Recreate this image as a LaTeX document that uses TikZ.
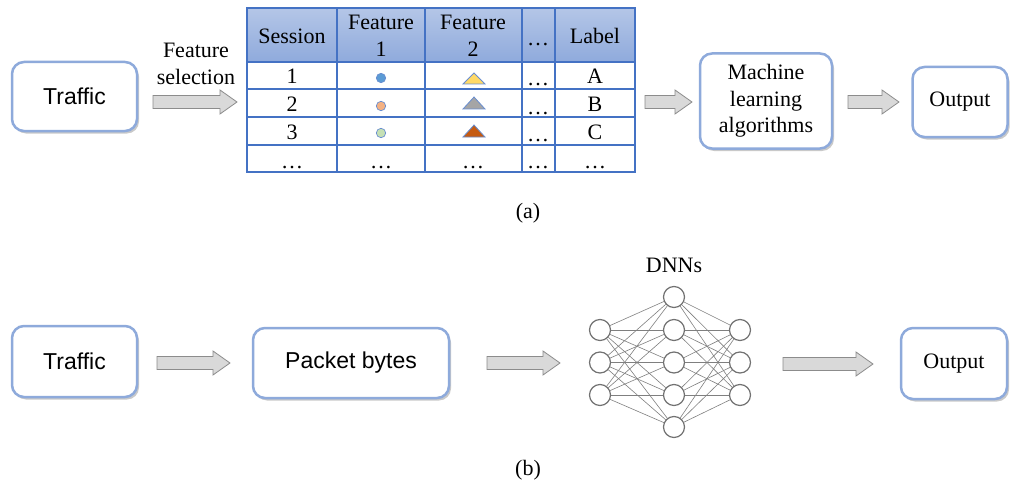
\documentclass[tikz,border=0pt]{standalone}
\usepackage{fontspec}
\setmainfont{Liberation Serif}
\setsansfont{Liberation Sans}
\usetikzlibrary{shadows}
\definecolor{boxblue}{HTML}{8EAADB}
\definecolor{tblue}{HTML}{4472C4}
\definecolor{hdrtop}{HTML}{B4C6E7}
\definecolor{hdrbot}{HTML}{8FAADC}
\definecolor{arrfill}{HTML}{D9D9D9}
\definecolor{arrdraw}{HTML}{8C8C8C}
\definecolor{netgray}{HTML}{7F7F7F}
\definecolor{cblue}{HTML}{5B9BD5}
\definecolor{corange}{HTML}{F4B183}
\definecolor{cgreen}{HTML}{C5E0B4}
\definecolor{tyellow}{HTML}{FFD966}
\definecolor{tgray}{HTML}{A5A5A5}
\definecolor{tred}{HTML}{C55A11}
\newcommand\blockarr[3]{% x1, x2, y
  \draw[blockarrow] ({#1},{#3-6.5}) -- ({#2-17},{#3-6.5}) -- ({#2-17},{#3-12}) -- ({#2},{#3})
    -- ({#2-17},{#3+12}) -- ({#2-17},{#3+6.5}) -- ({#1},{#3+6.5}) -- cycle;}
\begin{document}
\begin{tikzpicture}[x=1pt,y=-1pt,
  roundbox/.style={draw=boxblue, line width=2.5pt, rounded corners=12pt, fill=white, inner sep=0pt,
    drop shadow={shadow xshift=2pt, shadow yshift=-2.5pt, opacity=0.3, fill=black!70}},
  serifbig/.style={font=\fontsize{22}{26.5}\selectfont},
  sansbig/.style={font=\sffamily\fontsize{23}{27}\selectfont},
  blockarrow/.style={fill=arrfill, draw=arrdraw, line width=0.8pt},
  gridline/.style={draw=tblue, line width=1.2pt},
  neuron/.style={circle, draw=netgray!90!black, line width=1.2pt, fill=white, minimum size=21pt, inner sep=0pt},
  synapse/.style={draw=netgray, line width=0.6pt},
  dots/.style={serifbig, anchor=base},
  tri/.style={draw=tblue!80, line width=0.8pt},
  dotc/.style={draw=tblue!80, line width=0.7pt}
]
\useasboundingbox (0,0) rectangle (1013,487);

% ---------- (a) ----------
\node[roundbox, sansbig, minimum width=125pt, minimum height=69pt] (traffic1) at (74.5,96.5) {Traffic};
\node[serifbig, align=center] (fsel) at (196,64) {Feature\\selection};
\blockarr{153}{237}{102}

% table
\shade[top color=hdrtop, bottom color=hdrbot] (247,8) rectangle (635,62);
\foreach \yy in {62,89,117,145} \draw[gridline] (247,\yy) -- (635,\yy);
\foreach \xx in {337,425,522,555} \draw[gridline] (\xx,8) -- (\xx,172);
\node[draw=tblue, line width=1.6pt, minimum width=388pt, minimum height=164pt, inner sep=0pt] (table) at (441,90) {};

\node[serifbig] (hs) at (292,36) {Session};
\node[serifbig, align=center] (hf1) at (381,36) {Feature\\1};
\node[serifbig, align=center] (hf2) at (473,36) {Feature\\2};
\node[dots] (hd) at (538,46) {\ldots};
\node[serifbig] (hl) at (595,36) {Label};

\node[serifbig] (s1) at (292,76) {1};
\node[serifbig] (s2) at (292,104) {2};
\node[serifbig] (s3) at (292,132) {3};
\node[serifbig] (l1) at (595,76) {A};
\node[serifbig] (l2) at (595,104) {B};
\node[serifbig] (l3) at (595,132) {C};
\node[dots] (d1) at (538,86) {\ldots};
\node[dots] (d2) at (538,114) {\ldots};
\node[dots] (d3) at (538,142) {\ldots};
\node[dots] (e1) at (292,168) {\ldots};
\node[dots] (e2) at (381,168) {\ldots};
\node[dots] (e3) at (473,168) {\ldots};
\node[dots] (e4) at (538,168) {\ldots};
\node[dots] (e5) at (595,168) {\ldots};

\draw[dotc, fill=cblue] (381,78) circle (4.7pt);
\draw[dotc, fill=corange] (381,106) circle (4.7pt);
\draw[dotc, fill=cgreen] (381,133) circle (4.7pt);
\draw[tri, fill=tyellow] (463,84) -- (485,84) -- (474,73) -- cycle;
\draw[tri, fill=tgray] (463,109) -- (485,109) -- (474,97) -- cycle;
\draw[tri, fill=tred] (463,137) -- (485,137) -- (474,125) -- cycle;

\blockarr{645}{692}{102}
\node[roundbox, serifbig, align=center, minimum width=132pt, minimum height=95pt] (ml) at (766,101) {Machine\\learning\\algorithms};
\blockarr{848}{899}{102}
\node[roundbox, serifbig, minimum width=95pt, minimum height=70pt] (out1) at (960,102) {Output};

\node[serifbig] (capa) at (528,213) {(a)};

% ---------- (b) ----------
\node[roundbox, sansbig, minimum width=125pt, minimum height=71pt] (traffic2) at (74.5,361.5) {Traffic};
\blockarr{157}{230}{363}
\node[roundbox, sansbig, minimum width=196pt, minimum height=70pt] (packet) at (351,363) {Packet bytes};
\blockarr{487}{560}{363}

\node[serifbig] (dnn) at (674,265) {DNNs};
\foreach \i/\yy in {1/330,2/362.5,3/395} {
  \node[neuron] (in\i) at (600,\yy) {};
  \node[neuron] (o\i) at (740,\yy) {};
}
\foreach \j/\yy in {1/297,2/330,3/362.5,4/395,5/427} {
  \node[neuron] (h\j) at (674,\yy) {};
}
\foreach \i in {1,2,3} \foreach \j in {1,...,5} {
  \draw[synapse] (in\i) -- (h\j);
  \draw[synapse] (h\j) -- (o\i);
}

\blockarr{783}{873}{364}
\node[roundbox, serifbig, minimum width=106pt, minimum height=71pt] (out2) at (954,363.5) {Output};

\node[serifbig] (capb) at (528,470) {(b)};
\end{tikzpicture}
\end{document}
